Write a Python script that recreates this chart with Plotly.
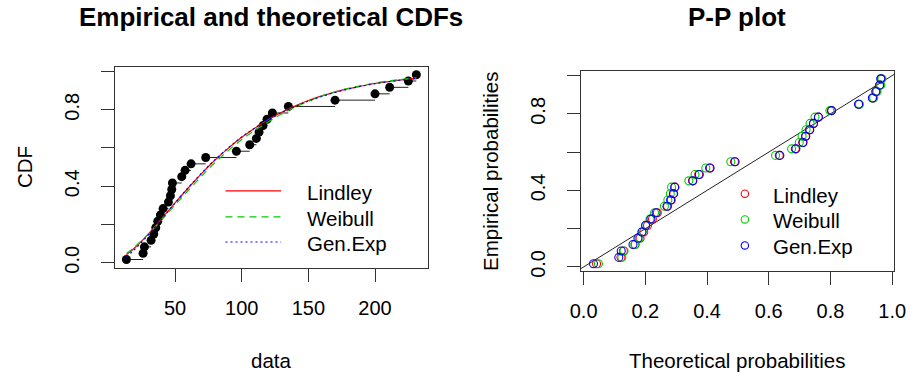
import plotly.graph_objects as go

# ---------------- data ----------------
obs = [13.5, 26, 27, 32, 34, 35.5, 37, 39, 41, 45, 46.5, 47.5, 48, 55, 57.5, 62,
       73, 96, 106, 111, 113, 116, 119, 123, 135, 170, 200, 211, 225, 231]
emp_p = [0.017, 0.050, 0.083, 0.117, 0.150, 0.183, 0.217, 0.250, 0.283, 0.317,
         0.350, 0.383, 0.417, 0.450, 0.483, 0.517, 0.550, 0.583, 0.617, 0.650,
         0.683, 0.717, 0.750, 0.783, 0.817, 0.850, 0.883, 0.917, 0.950, 0.983]

curve_x = [13.5, 20, 30, 40, 50, 60, 70, 80, 90, 100, 110, 120, 130, 140, 150,
           160, 170, 180, 190, 200, 210, 220, 231]
cdf_lindley = [0.042, 0.080, 0.151, 0.231, 0.313, 0.392, 0.467, 0.537, 0.599, 0.656,
               0.705, 0.749, 0.787, 0.819, 0.848, 0.872, 0.892, 0.910, 0.924, 0.937,
               0.947, 0.956, 0.964]
cdf_weibull = [0.048, 0.085, 0.150, 0.224, 0.302, 0.379, 0.454, 0.524, 0.587, 0.644,
               0.693, 0.737, 0.778, 0.813, 0.844, 0.871, 0.894, 0.912, 0.927, 0.940,
               0.950, 0.959, 0.967]
cdf_genexp = [0.032, 0.072, 0.146, 0.229, 0.313, 0.393, 0.469, 0.539, 0.601, 0.657,
              0.705, 0.748, 0.786, 0.817, 0.845, 0.869, 0.890, 0.908, 0.923, 0.936,
              0.946, 0.955, 0.963]

pp_lindley = [0.042, 0.121, 0.129, 0.167, 0.183, 0.195, 0.207, 0.223, 0.239, 0.272,
              0.284, 0.292, 0.296, 0.353, 0.373, 0.408, 0.489, 0.634, 0.686, 0.710,
              0.719, 0.732, 0.745, 0.761, 0.804, 0.892, 0.937, 0.948, 0.960, 0.964]
pp_weibull = [0.048, 0.124, 0.131, 0.166, 0.180, 0.190, 0.201, 0.215, 0.230, 0.262,
              0.273, 0.281, 0.285, 0.341, 0.361, 0.396, 0.477, 0.622, 0.674, 0.699,
              0.708, 0.721, 0.734, 0.750, 0.798, 0.894, 0.940, 0.951, 0.963, 0.967]
pp_genexp = [0.032, 0.114, 0.122, 0.160, 0.176, 0.189, 0.201, 0.218, 0.235, 0.270,
             0.282, 0.291, 0.295, 0.354, 0.375, 0.410, 0.491, 0.636, 0.688, 0.711,
             0.720, 0.733, 0.745, 0.761, 0.803, 0.891, 0.936, 0.947, 0.959, 0.963]

dist_names = ["Lindley", "Weibull", "Gen.Exp"]
dist_colors = ["red", "#00CD00", "blue"]
dist_dash = ["solid", "7px,5px", "2px,3px"]

x_ticks_left = [50, 100, 150, 200]
y_ticks = [0.0, 0.2, 0.4, 0.6, 0.8, 1.0]
y_ticktext = ["0.0", "", "0.4", "", "0.8", ""]
x_ticks_right = [0.0, 0.2, 0.4, 0.6, 0.8, 1.0]
x_ticktext_right = ["0.0", "0.2", "0.4", "0.6", "0.8", "1.0"]

# ---------------- figure ----------------
W, H = 919, 384
FONT = "Liberation Sans, Arial, sans-serif"
FS = 20
AXC = "#333333"

fig = go.Figure()

# step segments of the ECDF (horizontal only)
sx, sy = [], []
for i in range(len(obs) - 1):
    sx += [obs[i], obs[i + 1], None]
    sy += [emp_p[i], emp_p[i], None]
fig.add_trace(go.Scatter(x=sx, y=sy, mode="lines", line=dict(color="#222222", width=1),
                         xaxis="x", yaxis="y", showlegend=False, hoverinfo="skip"))
fig.add_trace(go.Scatter(x=obs, y=emp_p, mode="markers",
                         marker=dict(color="black", size=9, line=dict(width=0)),
                         xaxis="x", yaxis="y", showlegend=False))
for name, col, dash, vals in zip(dist_names, dist_colors, dist_dash,
                                 [cdf_lindley, cdf_weibull, cdf_genexp]):
    fig.add_trace(go.Scatter(x=curve_x, y=vals, mode="lines", name=name,
                             line=dict(color=col, width=1.2, dash=dash, shape="spline"),
                             xaxis="x", yaxis="y", showlegend=False))

# P-P plot
fig.add_trace(go.Scatter(x=[-0.1, 1.1], y=[-0.1, 1.1], mode="lines",
                         line=dict(color="#222222", width=1),
                         xaxis="x2", yaxis="y2", showlegend=False, hoverinfo="skip"))
for name, col, vals in zip(dist_names, dist_colors, [pp_lindley, pp_weibull, pp_genexp]):
    fig.add_trace(go.Scatter(x=vals, y=emp_p, mode="markers", name=name,
                             marker=dict(symbol="circle-open", size=8, color=col,
                                         line=dict(color=col, width=1.1)),
                             xaxis="x2", yaxis="y2", showlegend=False))

axis_common = dict(showline=True, linecolor=AXC, linewidth=1, mirror=True,
                   ticks="outside", ticklen=13, tickcolor=AXC, tickwidth=1,
                   showgrid=False, zeroline=False,
                   tickfont=dict(family=FONT, size=FS, color="black"))

def px_x(v):
    return v / W

def px_y(v):
    return 1 - v / H

fig.update_layout(
    width=W, height=H,
    margin=dict(l=0, r=0, t=0, b=0),
    paper_bgcolor="white", plot_bgcolor="white",
    font=dict(family=FONT, size=FS, color="black"),
    xaxis=dict(domain=[px_x(106.5), px_x(427.5)], range=[4.8, 239.6],
               tickvals=x_ticks_left, ticktext=[str(v) for v in x_ticks_left],
               anchor="y", ticklabelstandoff=9, **axis_common),
    yaxis=dict(domain=[px_y(272.7), px_y(68.3)], range=[-0.026, 1.023],
               tickvals=y_ticks, ticktext=y_ticktext, tickangle=-90,
               anchor="x", ticklabelstandoff=14, **axis_common),
    xaxis2=dict(domain=[px_x(584.3), px_x(905.7)], range=[-0.0095, 1.006],
                tickvals=x_ticks_right, ticktext=x_ticktext_right,
                anchor="y2", ticklabelstandoff=9, **axis_common),
    yaxis2=dict(domain=[px_y(276), px_y(72.7)], range=[-0.021, 1.022],
                tickvals=y_ticks, ticktext=y_ticktext, tickangle=-90,
                anchor="x2", ticklabelstandoff=14, **axis_common),
)

ann = []
def add_text(text, x, y, size=FS, angle=0, xanchor="center", bold=False):
    ann.append(dict(text=("<b>%s</b>" % text) if bold else text,
                    x=px_x(x), y=px_y(y), xref="paper", yref="paper",
                    xanchor=xanchor, yanchor="middle", showarrow=False,
                    textangle=angle, font=dict(family=FONT, size=size, color="black")))

add_text("Empirical and theoretical CDFs", 267, 17, size=26, bold=True)
add_text("P-P plot", 745, 17, size=26, bold=True)
add_text("data", 267, 367, size=20.5)
add_text("CDF", 14, 170.5, size=20.5, angle=-90)
add_text("Theoretical probabilities", 745, 367, size=20.5)
add_text("Empirical probabilities", 492, 174.5, size=20.5, angle=-90)

shapes = []
# left legend (lines)
leg_left_y = [194.5, 221, 246.5]
for name, col, dash, yy in zip(dist_names, dist_colors, dist_dash, leg_left_y):
    shapes.append(dict(type="line", xref="paper", yref="paper",
                       x0=px_x(220), x1=px_x(277), y0=px_y(yy), y1=px_y(yy),
                       line=dict(color=col, width=1.2, dash=dash)))
    add_text(name, 301.5, yy + 1.5, size=20.5, xanchor="left")
# right legend (open circles)
leg_right_y = [197.3, 223.5, 250]
for name, col, yy in zip(dist_names, dist_colors, leg_right_y):
    shapes.append(dict(type="circle", xref="paper", yref="paper",
                       xsizemode="pixel", ysizemode="pixel",
                       xanchor=px_x(752.7), yanchor=px_y(yy),
                       x0=-3.7, x1=3.7, y0=-3.7, y1=3.7,
                       line=dict(color=col, width=1.1)))
    add_text(name, 779, yy + 1.5, size=20.5, xanchor="left")

fig.update_layout(annotations=ann, shapes=shapes)
# the page's default body margin would push the 919x384 figure off the window
fig.write_html("out.html",
               config={"displayModeBar": False},
               post_script="document.body.style.margin='0';document.body.style.overflow='hidden';")
